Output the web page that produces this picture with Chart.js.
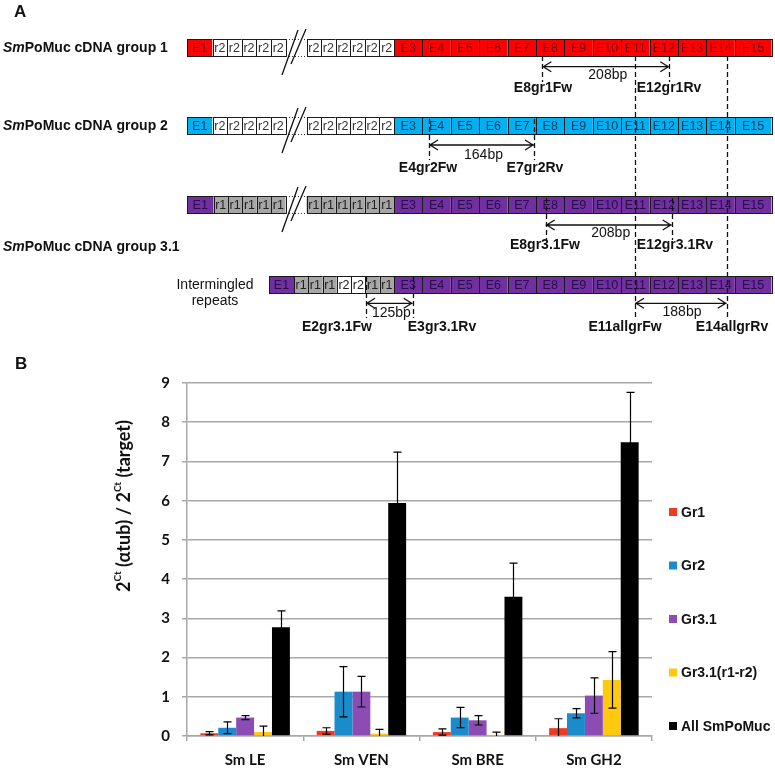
<!DOCTYPE html>
<html>
<head>
<meta charset="utf-8">
<script src="https://cdn.jsdelivr.net/npm/chart.js@4.4.1/dist/chart.umd.min.js"></script>
<style>
  html, body { margin: 0; padding: 0; background: #fff; overflow: hidden; }
  #wrap { position: relative; width: 775px; height: 768px; }
</style>
</head>
<body>
<div id="wrap"><canvas id="chart" width="775" height="768"></canvas></div>
<script>
// ── Data (panel B) ─────────────────────────────────────────
const categories = ['Sm LE', 'Sm VEN', 'Sm BRE', 'Sm GH2'];
const seriesNames = ['Gr1', 'Gr2', 'Gr3.1', 'Gr3.1(r1-r2)', 'All SmPoMuc'];

const gr1 = [0.07, 0.13, 0.10, 0.20];
const gr1Err = [0.04, 0.08, 0.08, 0.24];
const gr2 = [0.21, 1.13, 0.47, 0.58];
const gr2Err = [0.15, 0.64, 0.26, 0.12];
const gr31 = [0.47, 1.13, 0.40, 1.03];
const gr31Err = [0.05, 0.39, 0.12, 0.45];
const gr31r = [0.10, 0.06, 0.03, 1.43];
const gr31rErr = [0.15, 0.11, 0.07, 0.72];
const allMuc = [2.77, 5.94, 3.55, 7.49];
const allMucErr = [0.42, 1.30, 0.86, 1.27];

const yTicks = [0, 1, 2, 3, 4, 5, 6, 7, 8, 9];

const COLORS = ['#EE3A22', '#1B8CCB', '#8B4DB3', '#FFC90E', '#000000'];
const GRID = '#A8A8A8';
const ARIAL = '"Liberation Sans", Arial, sans-serif';
const CALIBRI = 'Lato, "Open Sans", sans-serif';

// ── Panel A : diagramme des transcrits ─────────────────────
const EX0 = 394, EXW = 28.4;          // début de E3, largeur d'un exon
const exonRows = [
  { top: 39,  fill: '#FF0000', ink: '#6e0606', rep: 'r2', repFill: '#FFFFFF', repInk: '#333' },
  { top: 117, fill: '#00B0F0', ink: '#12385e', rep: 'r2', repFill: '#FFFFFF', repInk: '#333' },
  { top: 196, fill: '#7030A0', ink: '#2c0a4a', rep: 'r1', repFill: '#A6A6A6', repInk: '#222' },
];
const mixedRepeats = ['r1', 'r1', 'r1', 'r2', 'r2', 'r1', 'r1'];
const ROW_H = 17;

function box(ctx, x0, x1, top, fill, label, ink) {
  ctx.fillStyle = fill;
  ctx.fillRect(x0, top, x1 - x0, ROW_H);
  ctx.strokeStyle = '#1a1a1a';
  ctx.lineWidth = 1;
  ctx.strokeRect(Math.round(x0) + 0.5, top + 0.5, Math.round(x1) - Math.round(x0), ROW_H);
  ctx.fillStyle = ink;
  ctx.font = '12.5px ' + ARIAL;
  ctx.textAlign = 'center';
  ctx.textBaseline = 'middle';
  ctx.fillText(label, (x0 + x1) / 2, top + ROW_H / 2 + 1);
}

function exons(ctx, top, fill, ink) {
  for (let n = 3; n <= 15; n++) {
    const x0 = EX0 + (n - 3) * EXW;
    const x1 = n === 15 ? 771.5 : x0 + EXW;
    box(ctx, x0, x1, top, fill, 'E' + n, ink);
  }
}

function dashed(ctx, x, y0, y1) {
  ctx.save();
  ctx.setLineDash([5, 3]);
  ctx.strokeStyle = '#111';
  ctx.lineWidth = 1.3;
  ctx.beginPath();
  ctx.moveTo(Math.round(x) + 0.5, y0);
  ctx.lineTo(Math.round(x) + 0.5, y1);
  ctx.stroke();
  ctx.restore();
}

function arrow(ctx, x0, x1, y) {
  ctx.strokeStyle = '#111';
  ctx.lineWidth = 1.3;
  ctx.beginPath();
  ctx.moveTo(x0, y); ctx.lineTo(x1, y);
  ctx.moveTo(x0 + 9, y - 5); ctx.lineTo(x0 + 1, y); ctx.lineTo(x0 + 9, y + 5);
  ctx.moveTo(x1 - 9, y - 5); ctx.lineTo(x1 - 1, y); ctx.lineTo(x1 - 9, y + 5);
  ctx.stroke();
}

function text(ctx, str, x, y, font, align) {
  ctx.font = font;
  ctx.fillStyle = '#111';
  ctx.textAlign = align || 'center';
  ctx.textBaseline = 'middle';
  ctx.fillText(str, x, y);
}

function amplicon(ctx, xf, xr, top, yArrow, size, ySize, fw, xFw, rv, xRv, yLab, yEnd) {
  dashed(ctx, xf, top, yEnd);
  dashed(ctx, xr, top, yEnd);
  arrow(ctx, xf, xr, yArrow);
  text(ctx, size, (xf + xr) / 2 + 2, ySize, '14px ' + ARIAL);
  text(ctx, fw, xFw, yLab, 'bold 14px ' + ARIAL);
  text(ctx, rv, xRv, yLab, 'bold 14px ' + ARIAL);
}

function rowLabel(ctx, suffix, y) {
  ctx.fillStyle = '#111';
  ctx.textAlign = 'left';
  ctx.textBaseline = 'middle';
  ctx.font = 'italic bold 14px ' + ARIAL;
  ctx.fillText('Sm', 3, y);
  const w = ctx.measureText('Sm').width;
  ctx.font = 'bold 14px ' + ARIAL;
  ctx.fillText('PoMuc cDNA group ' + suffix, 3 + w, y);
}

function drawDiagram(ctx) {
  ctx.save();
  text(ctx, 'A', 14, 12, 'bold 17px ' + ARIAL, 'left');
  text(ctx, 'B', 15, 364, 'bold 17px ' + ARIAL, 'left');

  rowLabel(ctx, '1', 48);
  rowLabel(ctx, '2', 126);
  rowLabel(ctx, '3.1', 247);
  text(ctx, 'Intermingled', 215, 285, '14px ' + ARIAL);
  text(ctx, 'repeats', 215, 301, '14px ' + ARIAL);

  // rangées avec coupure (//)
  exonRows.forEach(r => {
    const e1End = r.rep === 'r1' ? 213.5 : 212.5;
    box(ctx, 187, e1End, r.top, r.fill, 'E1', r.ink);
    const wA = (285.5 - e1End) / 5;
    for (let i = 0; i < 5; i++) box(ctx, e1End + i * wA, e1End + (i + 1) * wA, r.top, r.repFill, r.rep, r.repInk);
    const wB = (EX0 - 306.5) / 6;
    for (let i = 0; i < 6; i++) box(ctx, 306.5 + i * wB, 306.5 + (i + 1) * wB, r.top, r.repFill, r.rep, r.repInk);
    exons(ctx, r.top, r.fill, r.ink);

    ctx.save();
    ctx.strokeStyle = '#333';
    ctx.lineWidth = 1;
    ctx.setLineDash([1, 2]);
    ctx.beginPath();
    ctx.moveTo(286, r.top + 0.5); ctx.lineTo(306, r.top + 0.5);
    ctx.moveTo(286, r.top + ROW_H + 0.5); ctx.lineTo(306, r.top + ROW_H + 0.5);
    ctx.stroke();
    ctx.restore();

    ctx.strokeStyle = '#111';
    ctx.lineWidth = 1.3;
    ctx.beginPath();
    ctx.moveTo(282, r.top + 36); ctx.lineTo(298, r.top - 9);
    ctx.moveTo(291, r.top + 25); ctx.lineTo(306, r.top - 10);
    ctx.stroke();
  });

  // rangée "intermingled repeats"
  const top4 = 276;
  box(ctx, 269, 294, top4, '#7030A0', 'E1', '#2c0a4a');
  const wM = (EX0 - 294) / mixedRepeats.length;
  mixedRepeats.forEach((rp, i) => {
    box(ctx, 294 + i * wM, 294 + (i + 1) * wM, top4, rp === 'r1' ? '#A6A6A6' : '#FFFFFF', rp, '#222');
  });
  exons(ctx, top4, '#7030A0', '#2c0a4a');

  // amorces
  dashed(ctx, 635, 56, 318);
  dashed(ctx, 726.7, 56, 318);
  amplicon(ctx, 542.3, 669.3, 56, 66.7, '208bp', 75, 'E8gr1Fw', 543, 'E12gr1Rv', 669, 88, 82);
  amplicon(ctx, 429, 534, 119, 145, '164bp', 155, 'E4gr2Fw', 428, 'E7gr2Rv', 535, 168, 160);
  amplicon(ctx, 545.7, 671.7, 198, 225, '208bp', 233, 'E8gr3.1Fw', 545, 'E12gr3.1Rv', 675, 245, 240);
  amplicon(ctx, 366, 412.7, 277, 303.3, '125bp', 313, 'E2gr3.1Fw', 337, 'E3gr3.1Rv', 442, 327, 318);
  arrow(ctx, 635, 726.7, 303.3);
  text(ctx, '188bp', 682, 312, '14px ' + ARIAL);
  text(ctx, 'E11allgrFw', 625, 327, 'bold 14px ' + ARIAL);
  text(ctx, 'E14allgrRv', 732, 327, 'bold 14px ' + ARIAL);
  ctx.restore();
}

const diagramPlugin = {
  id: 'diagram',
  afterDraw(chart) { drawDiagram(chart.ctx); }
};

// ── Barres d'erreur ────────────────────────────────────────
const errorBarPlugin = {
  id: 'errorBars',
  afterDatasetsDraw(chart) {
    const { ctx, chartArea, scales: { y } } = chart;
    ctx.save();
    ctx.beginPath();
    ctx.rect(chartArea.left, chartArea.top, chartArea.width, chartArea.height);
    ctx.clip();
    ctx.strokeStyle = '#000';
    ctx.lineWidth = 1.2;
    chart.data.datasets.forEach((ds, i) => {
      chart.getDatasetMeta(i).data.forEach((bar, j) => {
        const v = ds.data[j], e = ds.errors[j];
        const x = Math.round(bar.x) + 0.5;
        const y0 = y.getPixelForValue(v - e), y1 = y.getPixelForValue(v + e);
        ctx.beginPath();
        ctx.moveTo(x, y0); ctx.lineTo(x, y1);
        ctx.moveTo(x - 4, y1); ctx.lineTo(x + 4, y1);
        ctx.moveTo(x - 4, y0); ctx.lineTo(x + 4, y0);
        ctx.stroke();
      });
    });
    ctx.restore();
  }
};

// ── Titre de l'axe Y avec exposants ───────────────────────
const yTitlePlugin = {
  id: 'yTitle',
  afterDraw(chart) {
    const { ctx } = chart;
    const parts = [['2', 0], ['Ct', 1], [' (αtub) / 2', 0], ['Ct', 1], [' (target)', 0]];
    const big = 'bold 18px ' + CALIBRI, small = 'bold 10px ' + CALIBRI;
    ctx.save();
    ctx.translate(123, 506);
    ctx.rotate(-Math.PI / 2);
    let total = 0;
    parts.forEach(([t, s]) => { ctx.font = s ? small : big; total += ctx.measureText(t).width; });
    let x = -total / 2;
    ctx.fillStyle = '#111';
    ctx.textAlign = 'left';
    ctx.textBaseline = 'alphabetic';
    parts.forEach(([t, s]) => {
      ctx.font = s ? small : big;
      ctx.fillText(t, x, s ? -2 : 7);
      x += ctx.measureText(t).width;
    });
    ctx.restore();
  }
};

// ── Légende à droite ──────────────────────────────────────
const sideLegendPlugin = {
  id: 'sideLegend',
  afterDraw(chart) {
    const { ctx, chartArea } = chart;
    ctx.save();
    ctx.font = 'bold 14px ' + ARIAL;
    ctx.textAlign = 'left';
    ctx.textBaseline = 'middle';
    chart.data.datasets.forEach((ds, i) => {
      const cy = 512 + i * 53.5;
      const x = chartArea.right + 17;
      ctx.fillStyle = ds.backgroundColor;
      ctx.fillRect(x, cy - 4, 8, 8);
      ctx.fillStyle = '#111';
      ctx.fillText(ds.label, x + 12, cy + 1);
    });
    ctx.restore();
  }
};

const seriesValues = [gr1, gr2, gr31, gr31r, allMuc];
const seriesErrors = [gr1Err, gr2Err, gr31Err, gr31rErr, allMucErr];

const datasets = seriesNames.map((name, i) => ({
  label: name,
  data: seriesValues[i],
  errors: seriesErrors[i],
  backgroundColor: COLORS[i],
  borderWidth: 0,
  categoryPercentage: 0.77,
  barPercentage: 1,
}));

new Chart(document.getElementById('chart'), {
  type: 'bar',
  data: { labels: categories, datasets },
  plugins: [errorBarPlugin, yTitlePlugin, sideLegendPlugin, diagramPlugin],
  options: {
    responsive: false,
    animation: false,
    layout: { padding: { left: 157, right: 123, top: 383, bottom: 0 } },
    plugins: { legend: { display: false }, tooltip: { enabled: false } },
    scales: {
      x: {
        grid: { drawOnChartArea: false, drawTicks: true, tickLength: 5, color: GRID, lineWidth: 1.5 },
        border: { display: true, color: GRID, width: 1.5 },
        ticks: { font: { family: CALIBRI, size: 15, weight: 'bold' }, color: '#111', padding: 10 },
        afterFit: s => { s.height = 32; }
      },
      y: {
        min: yTicks[0],
        max: yTicks[yTicks.length - 1],
        afterBuildTicks: s => { s.ticks = yTicks.map(v => ({ value: v })); },
        grid: { color: GRID, lineWidth: 1.5, tickLength: 5 },
        border: { color: GRID, width: 1.5 },
        ticks: { font: { family: CALIBRI, size: 15, weight: 'bold' }, color: '#111', padding: 12 },
        afterFit: s => { s.width = 30; }
      }
    }
  }
});
</script>
</body>
</html>
